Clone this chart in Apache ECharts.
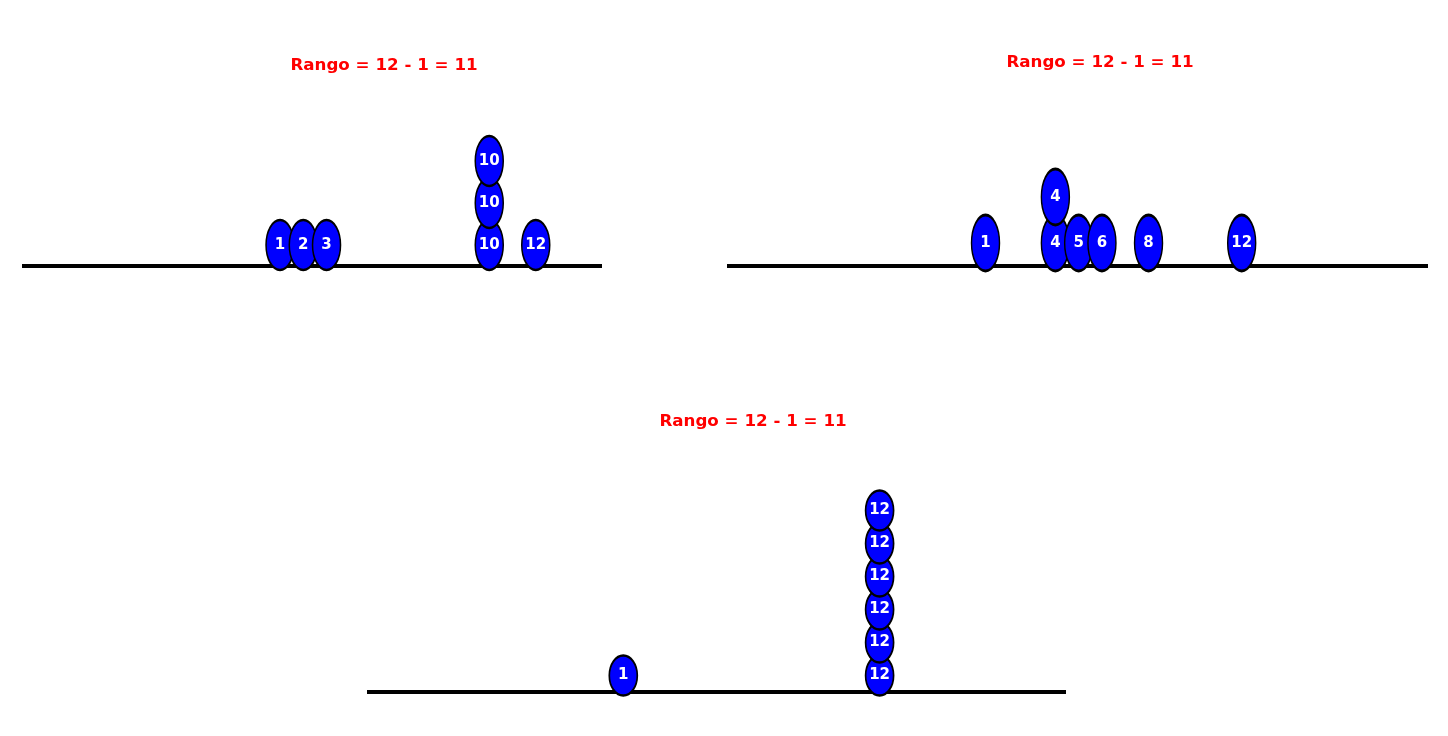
<!DOCTYPE html>
<html><head><meta charset="utf-8">
<script src="https://cdn.jsdelivr.net/npm/echarts@6/dist/echarts.min.js"></script>
<style>html,body{margin:0;padding:0;background:#fff}#c{width:1448px;height:736px}</style>
</head><body><div id="c"></div>
<script>
// ---- data ----
const titleTexts = ['Rango = 12 - 1 = 11', 'Rango = 12 - 1 = 11', 'Rango = 12 - 1 = 11'];
const valuesA = [1, 2, 3, 10, 10, 10, 12];
const valuesB = [1, 4, 4, 5, 6, 8, 12];
const valuesC = [1, 12, 12, 12, 12, 12, 12];

// stack repeated values into levels (dot plot)
function stackDots(values) {
  const seen = {};
  return values.map(v => {
    const k = seen[v] || 0;
    seen[v] = k + 1;
    return [v, k + 0.5];
  });
}

const panels = [
  { values: valuesA, grid: { left: 22, top: 98, width: 580, height: 168 }, xMin: -10.1, xMax: 14.85, yMax: 4, sym: [28, 50], title: [384, 65.5] },
  { values: valuesB, grid: { left: 727, top: 82, width: 701, height: 184 }, xMin: -10.1, xMax: 20, yMax: 4, sym: [28, 56], title: [1100, 62.5] },
  { values: valuesC, grid: { left: 367, top: 461, width: 699, height: 231 }, xMin: -10, xMax: 20, yMax: 7, sym: [28, 40], title: [753, 421.5] }
];

const option = {
  animation: false,
  backgroundColor: '#ffffff',
  grid: panels.map(p => p.grid),
  xAxis: panels.map((p, i) => ({
    type: 'value', gridIndex: i, min: p.xMin, max: p.xMax,
    axisLine: { show: true, onZero: false, lineStyle: { color: '#000', width: 4, cap: 'butt' } },
    axisTick: { show: false }, axisLabel: { show: false }, splitLine: { show: false }
  })),
  yAxis: panels.map((p, i) => ({
    type: 'value', gridIndex: i, min: 0, max: p.yMax, show: false,
    splitLine: { show: false }
  })),
  graphic: panels.map((p, i) => ({
    type: 'text', x: p.title[0], y: p.title[1], z: 10,
    style: {
      text: titleTexts[i], fill: '#ff0000', align: 'center', verticalAlign: 'middle',
      fontFamily: 'DejaVu Sans', fontWeight: 'bold', fontSize: 16.7
    }
  })),
  series: panels.map((p, i) => ({
    type: 'scatter', xAxisIndex: i, yAxisIndex: i,
    data: stackDots(p.values),
    symbol: 'circle', symbolSize: p.sym, clip: false,
    itemStyle: { color: '#0000ff', borderColor: '#000000', borderWidth: 2, opacity: 1 },
    label: {
      show: true, position: 'inside', formatter: d => String(d.value[0]),
      color: '#ffffff', fontFamily: 'DejaVu Sans', fontWeight: 'bold', fontSize: 15
    },
    emphasis: { disabled: true }
  }))
};

const chart = echarts.init(document.getElementById('c'), null, { renderer: 'canvas' });
chart.setOption(option);
</script>
</body></html>
